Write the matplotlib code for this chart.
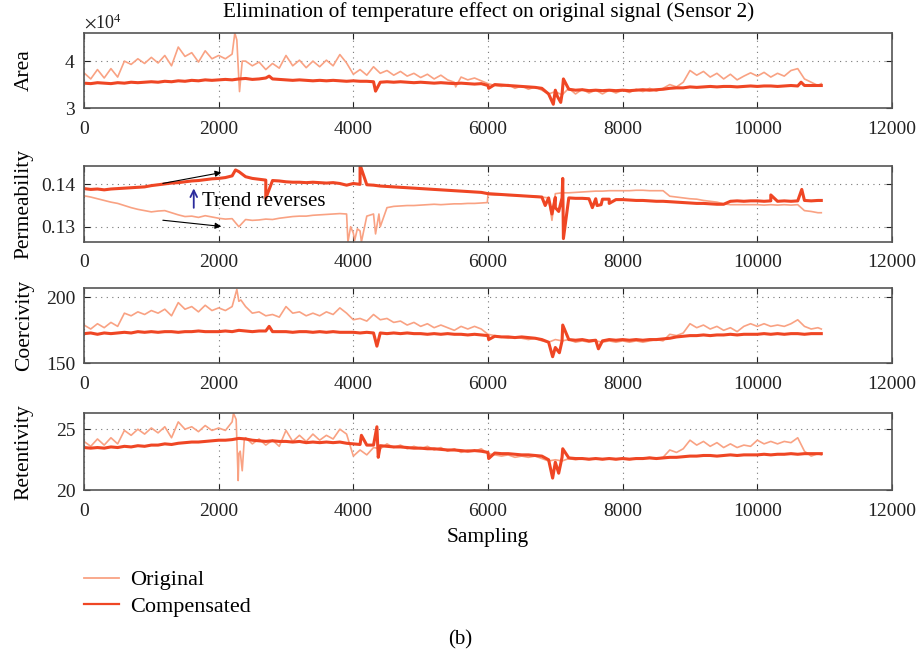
import numpy as np
import matplotlib
matplotlib.use('Agg')
import matplotlib.pyplot as plt
from matplotlib.lines import Line2D

plt.rcParams['font.family'] = ['Liberation Serif', 'DejaVu Serif']
plt.rcParams['mathtext.fontset'] = 'stix'

# sampling index of the base points (one every 100 samples)
sampling = np.arange(0, 11000, 100)

# ---- Area (x 1e4) ----
area_orig = [3.75, 3.62, 3.82, 3.64, 3.84, 3.66, 4.00, 3.93, 4.05, 3.95,
             4.08, 3.96, 4.12, 3.90, 4.30, 4.10, 4.18, 3.98, 4.22, 4.05,
             4.12, 4.05, 4.15, 3.60, 4.00, 3.90, 3.98, 3.82, 3.95, 3.85,
             4.12, 3.90, 4.02, 3.86, 4.00, 3.88, 4.02, 3.90, 4.14, 3.96,
             3.72, 3.82, 3.70, 3.88, 3.74, 3.80, 3.70, 3.78, 3.68, 3.74,
             3.65, 3.72, 3.62, 3.70, 3.60, 3.55, 3.66, 3.60, 3.64, 3.58,
             3.52, 3.48, 3.46, 3.50, 3.42, 3.47, 3.40, 3.45, 3.38, 3.30,
             3.35, 3.28, 3.42, 3.30, 3.40, 3.32, 3.38, 3.30, 3.38, 3.32,
             3.38, 3.33, 3.40, 3.35, 3.42, 3.36, 3.42, 3.50, 3.45, 3.55,
             3.80, 3.70, 3.78, 3.66, 3.74, 3.62, 3.72, 3.60, 3.68, 3.75,
             3.68, 3.76, 3.66, 3.74, 3.68, 3.80, 3.84, 3.62, 3.55, 3.48]
area_orig_sx = [2240, 2270, 2310, 2350, 5520, 10950]
area_orig_sy = [4.60, 4.45, 3.35, 4.00, 3.45, 3.52]

area_comp = [3.53, 3.52, 3.54, 3.53, 3.52, 3.54, 3.53, 3.55, 3.54, 3.55,
             3.56, 3.55, 3.57, 3.56, 3.58, 3.57, 3.59, 3.58, 3.60, 3.59,
             3.60, 3.61, 3.60, 3.62, 3.63, 3.61, 3.62, 3.64, 3.62, 3.61,
             3.60, 3.59, 3.60, 3.59, 3.58, 3.59, 3.58, 3.59, 3.58, 3.57,
             3.58, 3.57, 3.57, 3.56, 3.55, 3.56, 3.55, 3.56, 3.55, 3.54,
             3.55, 3.54, 3.53, 3.54, 3.53, 3.52, 3.53, 3.52, 3.51, 3.52,
             3.48, 3.50, 3.49, 3.48, 3.47, 3.46, 3.45, 3.44, 3.42, 3.30,
             3.38, 3.30, 3.40, 3.38, 3.39, 3.37, 3.38, 3.37, 3.38, 3.37,
             3.38, 3.37, 3.38, 3.39, 3.38, 3.39, 3.40, 3.42, 3.43, 3.43,
             3.45, 3.44, 3.45, 3.46, 3.45, 3.46, 3.46, 3.45, 3.46, 3.47,
             3.46, 3.47, 3.47, 3.46, 3.47, 3.48, 3.47, 3.48, 3.48, 3.48]
area_comp_sx = [2750, 4330, 6010, 6970, 7030, 7080, 7120, 10650, 10950]
area_comp_sy = [3.68, 3.36, 3.42, 3.08, 3.25, 3.12, 3.62, 3.55, 3.48]

# ---- Permeability ----
perm_orig = [.1373, .1370, .1366, .1362, .1358, .1355, .1350, .1345, .1341, .1338,
             .1335, .1337, .1338, .1333, .1328, .1324, .1325, .1322, .1326, .1323,
             .1320, .1318, .1319, .1300, .1317, .1315, .1316, .1318, .1317, .1320,
             .1322, .1324, .1325, .1325, .1327, .1328, .1329, .1330, .1331, .1330,
             .1285, .1290, .1325, .1330, .1300, .1345, .1348, .1349, .1350, .1350,
             .1351, .1352, .1353, .1352, .1353, .1354, .1354, .1355, .1355, .1356,
             .1376, .1375, .1375, .1374, .1374, .1373, .1372, .1372, .1370, .1368,
             .1378, .1380, .1380, .1381, .1382, .1383, .1384, .1384, .1385, .1385,
             .1385, .1385, .1386, .1386, .1385, .1385, .1385, .1372, .1370, .1368,
             .1366, .1365, .1362, .1360, .1358, .1354, .1352, .1352, .1352, .1352,
             .1352, .1351, .1352, .1351, .1352, .1351, .1352, .1338, .1336, .1333]
perm_orig_sx = [3920, 3960, 4020, 4060, 4120, 4330, 4380, 5990, 6950, 10950]
perm_orig_sy = [.1264, .1300, .1268, .1295, .1264, .1283, .1330, .1357, .1315, .1333]

perm_comp = [.1390, .1388, .1389, .1387, .1389, .1390, .1391, .1392, .1393, .1394,
             .1397, .1399, .1401, .1403, .1404, .1406, .1408, .1409, .1411, .1413,
             .1414, .1416, .1420, .1430, .1418, .1414, .1412, .1410, .1409, .1408,
             .1406, .1405, .1405, .1404, .1405, .1404, .1403, .1404, .1402, .1398,
             .1402, .1400, .1399, .1398, .1396, .1395, .1394, .1393, .1392, .1391,
             .1390, .1389, .1388, .1387, .1386, .1385, .1384, .1383, .1382, .1381,
             .1378, .1377, .1376, .1375, .1374, .1373, .1372, .1371, .1370, .1368,
             .1369, .1368, .1368, .1367, .1367, .1366, .1366, .1365, .1365, .1364,
             .1364, .1363, .1362, .1362, .1361, .1360, .1360, .1359, .1358, .1357,
             .1356, .1355, .1355, .1354, .1353, .1353, .1360, .1361, .1360, .1361,
             .1361, .1360, .1361, .1360, .1361, .1360, .1361, .1362, .1361, .1362]
perm_comp_sx = [2250, 2700, 4100, 6850, 6950, 7000, 7050, 7110, 7120,
                7550, 7620, 7680, 7800, 10200, 10660, 10950]
perm_comp_sy = [.1434, .1367, .1446, .1350, .1330, .1345, .1336, .1414, .1272,
                .1345, .1350, .1352, .1355, .1375, .1388, .1362]

# ---- Coercivity ----
coer_orig = [179, 176, 180, 177, 181, 178, 188, 186, 189, 187,
             190, 188, 191, 186, 196, 191, 193, 189, 194, 190,
             192, 190, 193, 197, 193, 188, 189, 186, 187, 185,
             193, 188, 189, 186, 188, 186, 189, 187, 192, 188,
             183, 184, 182, 187, 183, 184, 181, 182, 179, 181,
             178, 180, 177, 179, 177, 175, 178, 176, 178, 176,
             172, 171, 170, 169, 170, 169, 168, 169, 167, 166,
             168, 167, 168, 166, 167, 166, 167, 166, 167, 166,
             167, 166, 167, 166, 167, 168, 167, 172, 171, 173,
             180, 177, 179, 176, 178, 175, 177, 174, 178, 180,
             178, 180, 178, 179, 178, 180, 183, 178, 176, 177]
coer_orig_sx = [2270, 2330, 10950]
coer_orig_sy = [206, 198, 176]

coer_comp = [172.5, 173, 172, 173, 172.5, 173, 173.5, 173, 174, 173.5,
             174, 173.5, 174, 174, 173.5, 174, 174, 174.5, 174, 174,
             174, 174.5, 174, 175, 174.5, 174, 174.5, 174.5, 174, 174,
             174, 173.5, 174, 174, 173.5, 174, 173.5, 174, 173.5, 173.5,
             173.5, 173, 173.5, 173, 173, 172.5, 173, 172.5, 173, 172.5,
             172.5, 172, 172.5, 172, 172.5, 172, 172, 171.5, 172, 171.5,
             171, 170.5, 170, 170, 169.5, 170, 169.5, 169, 168, 166,
             162, 167, 168, 167.5, 168, 167, 167.5, 167, 168, 167.5,
             168, 167.5, 168, 167.5, 168, 168, 168.5, 169, 170, 170.5,
             171, 171, 171.5, 171, 171.5, 171.5, 172, 171.5, 172, 172,
             172, 172.5, 172, 172.5, 172, 172.5, 172.5, 172, 172.5, 172.5]
coer_comp_sx = [2750, 4350, 6010, 6960, 7060, 7110, 7640, 10950]
coer_comp_sy = [178, 163, 168, 155, 158, 179, 161, 172.5]

# ---- Retentivity ----
ret_orig = [24.0, 23.6, 24.2, 23.7, 24.3, 23.8, 24.9, 24.5, 25.0, 24.6,
            25.1, 24.7, 25.2, 24.3, 25.6, 25.0, 25.2, 24.8, 25.3, 24.9,
            25.1, 24.9, 25.6, 23.0, 24.3, 23.8, 24.2, 23.7, 24.1, 23.6,
            24.9, 24.0, 24.5, 24.0, 24.6, 24.1, 24.5, 24.2, 25.0, 24.6,
            22.8, 23.3, 22.9, 23.5, 23.4, 23.8, 23.5, 23.7, 23.4, 23.6,
            23.4, 23.6, 23.3, 23.5, 23.2, 23.4, 23.1, 23.3, 23.2, 23.4,
            23.0, 22.9, 22.8, 22.9, 22.7, 22.8, 22.7, 22.8, 22.6, 22.4,
            22.5, 22.4, 22.6, 22.5, 22.6, 22.5, 22.6, 22.5, 22.6, 22.5,
            22.6, 22.5, 22.6, 22.6, 22.7, 22.6, 22.7, 23.3, 23.1, 23.4,
            24.1, 23.7, 24.0, 23.6, 23.9, 23.5, 23.8, 23.5, 23.7, 23.6,
            24.1, 23.8, 24.0, 23.8, 24.0, 23.9, 24.3, 23.2, 22.8, 23.0]
ret_orig_sx = [2220, 2260, 2290, 2320, 2350, 2380, 10950]
ret_orig_sy = [26.3, 25.8, 20.8, 23.2, 21.6, 24.1, 22.9]

ret_comp = [23.5, 23.45, 23.5, 23.45, 23.55, 23.5, 23.6, 23.55, 23.65, 23.6,
            23.7, 23.7, 23.8, 23.75, 23.85, 23.9, 23.95, 23.95, 24.0, 24.05,
            24.1, 24.1, 24.15, 24.25, 24.2, 24.1, 24.05, 24.0, 24.05, 24.0,
            24.0, 23.95, 24.0, 23.9, 23.95, 23.9, 23.95, 23.9, 23.95, 23.85,
            23.8, 23.75, 23.7, 23.7, 23.65, 23.6, 23.55, 23.55, 23.5, 23.45,
            23.45, 23.4, 23.4, 23.35, 23.3, 23.3, 23.25, 23.2, 23.25, 23.2,
            23.1, 23.05, 23.0, 23.0, 22.95, 22.9, 22.9, 22.85, 22.8, 22.5,
            22.3, 22.7, 22.65, 22.6, 22.6, 22.55, 22.6, 22.55, 22.6, 22.55,
            22.6, 22.55, 22.6, 22.6, 22.65, 22.6, 22.65, 22.7, 22.7, 22.75,
            22.8, 22.8, 22.85, 22.85, 22.8, 22.85, 22.9, 22.85, 22.9, 22.9,
            22.9, 22.95, 22.9, 22.95, 22.95, 23.0, 22.95, 23.0, 23.0, 23.0]
ret_comp_sx = [4120, 4350, 4370, 6010, 6960, 7050, 7110, 10950]
ret_comp_sy = [24.5, 25.2, 22.7, 22.6, 21.0, 21.4, 23.4, 23.0]

panel_labels = ['Area', 'Permeability', 'Coercivity', 'Retentivity']
panel_yticks = [[30000, 40000], [0.13, 0.14], [150, 200], [20, 25]]
panel_ylims = [(30000, 46000), (0.1264, 0.1444), (150, 207.3), (20, 26.3)]
xticks = [0, 2000, 4000, 6000, 8000, 10000, 12000]

# "Trend reverses" annotation (data coords in the permeability panel)
arrow_up_start, arrow_up_end = (1130, 0.1401), (2080, 0.1429)
arrow_dn_start, arrow_dn_end = (1130, 0.1316), (2080, 0.1300)
blue_start, blue_end = (1630, 0.1338), (1630, 0.1397)
note_pos = (1750, 0.1359)

c_orig = '#F9A283'
c_comp = '#EF4624'


def merge(base, sx, sy):
    x = np.concatenate([sampling, sx])
    y = np.concatenate([np.asarray(base, float), sy])
    order = np.argsort(x, kind='stable')
    return x[order], y[order]


series = [
    (merge(area_orig, area_orig_sx, area_orig_sy), merge(area_comp, area_comp_sx, area_comp_sy), 1e4),
    (merge(perm_orig, perm_orig_sx, perm_orig_sy), merge(perm_comp, perm_comp_sx, perm_comp_sy), 1),
    (merge(coer_orig, coer_orig_sx, coer_orig_sy), merge(coer_comp, coer_comp_sx, coer_comp_sy), 1),
    (merge(ret_orig, ret_orig_sx, ret_orig_sy), merge(ret_comp, ret_comp_sx, ret_comp_sy), 1),
]

fig = plt.figure(figsize=(9.21, 6.57), dpi=100)
# axes boxes in figure fractions
boxes = [(0.0912, 0.8356, 0.8773, 0.1142),
         (0.0912, 0.6317, 0.8773, 0.1161),
         (0.0912, 0.4470, 0.8773, 0.1151),
         (0.0912, 0.2537, 0.8773, 0.1172)]

axes = []
for i, ((orig, comp, scale), box) in enumerate(zip(series, boxes)):
    ax = fig.add_axes(box)
    ax.plot(orig[0], orig[1] * scale, color=c_orig, lw=1.2)
    ax.plot(comp[0], comp[1] * scale, color=c_comp, lw=2.2)
    ax.set_xlim(0, 12000)
    ax.set_ylim(*panel_ylims[i])
    ax.set_xticks(xticks)
    ax.set_yticks(panel_yticks[i])
    ax.grid(True, color='#777777', linestyle=(0, (1, 4)), lw=0.8)
    ax.tick_params(direction='in', top=True, right=True, length=4, width=0.8,
                   labelsize=14, colors='#222222')
    ax.tick_params(axis='x', pad=9)
    ax.tick_params(axis='y', pad=6)
    for s in ax.spines.values():
        s.set_color('#555555')
        s.set_linewidth(1.2)
    ax.set_ylabel(panel_labels[i], fontsize=15.5)
    ax.yaxis.set_label_coords(-0.074, 0.5)
    ax.yaxis.label.set_verticalalignment('center')
    axes.append(ax)

axes[0].ticklabel_format(axis='y', style='sci', scilimits=(4, 4), useMathText=True)
axes[0].yaxis.get_offset_text().set_fontsize(13)

ax2 = axes[1]
ax2.yaxis.set_major_formatter(matplotlib.ticker.FormatStrFormatter('%.2f'))
ax2.annotate('', xy=arrow_up_end, xytext=arrow_up_start,
             arrowprops=dict(arrowstyle='-|>', color='black', lw=0.8, mutation_scale=9))
ax2.annotate('', xy=arrow_dn_end, xytext=arrow_dn_start,
             arrowprops=dict(arrowstyle='-|>', color='black', lw=0.8, mutation_scale=9))
ax2.annotate('', xy=blue_end, xytext=blue_start,
             arrowprops=dict(arrowstyle='->', color='#2b2b9c', lw=1.3, mutation_scale=12))
ax2.text(note_pos[0], note_pos[1], 'Trend reverses', fontsize=15, va='center', ha='left')

axes[3].set_xlabel('Sampling', fontsize=15.5, labelpad=6)

fig.text(0.53, 1 - 12.5 / 657, 'Elimination of temperature effect on original signal (Sensor 2)',
         ha='center', va='center', fontsize=15.3)

handles = [Line2D([], [], color=c_orig, lw=1.3), Line2D([], [], color=c_comp, lw=1.6)]
fig.legend(handles, ['Original', 'Compensated'], loc='upper left',
           bbox_to_anchor=(0.069, 0.163), frameon=False, fontsize=16,
           handlelength=1.6, handletextpad=0.5, labelspacing=0.28)

fig.text(0.5, 1 - 640 / 657, '(b)', ha='center', va='center', fontsize=15)

fig.savefig('out.png', dpi=100)
